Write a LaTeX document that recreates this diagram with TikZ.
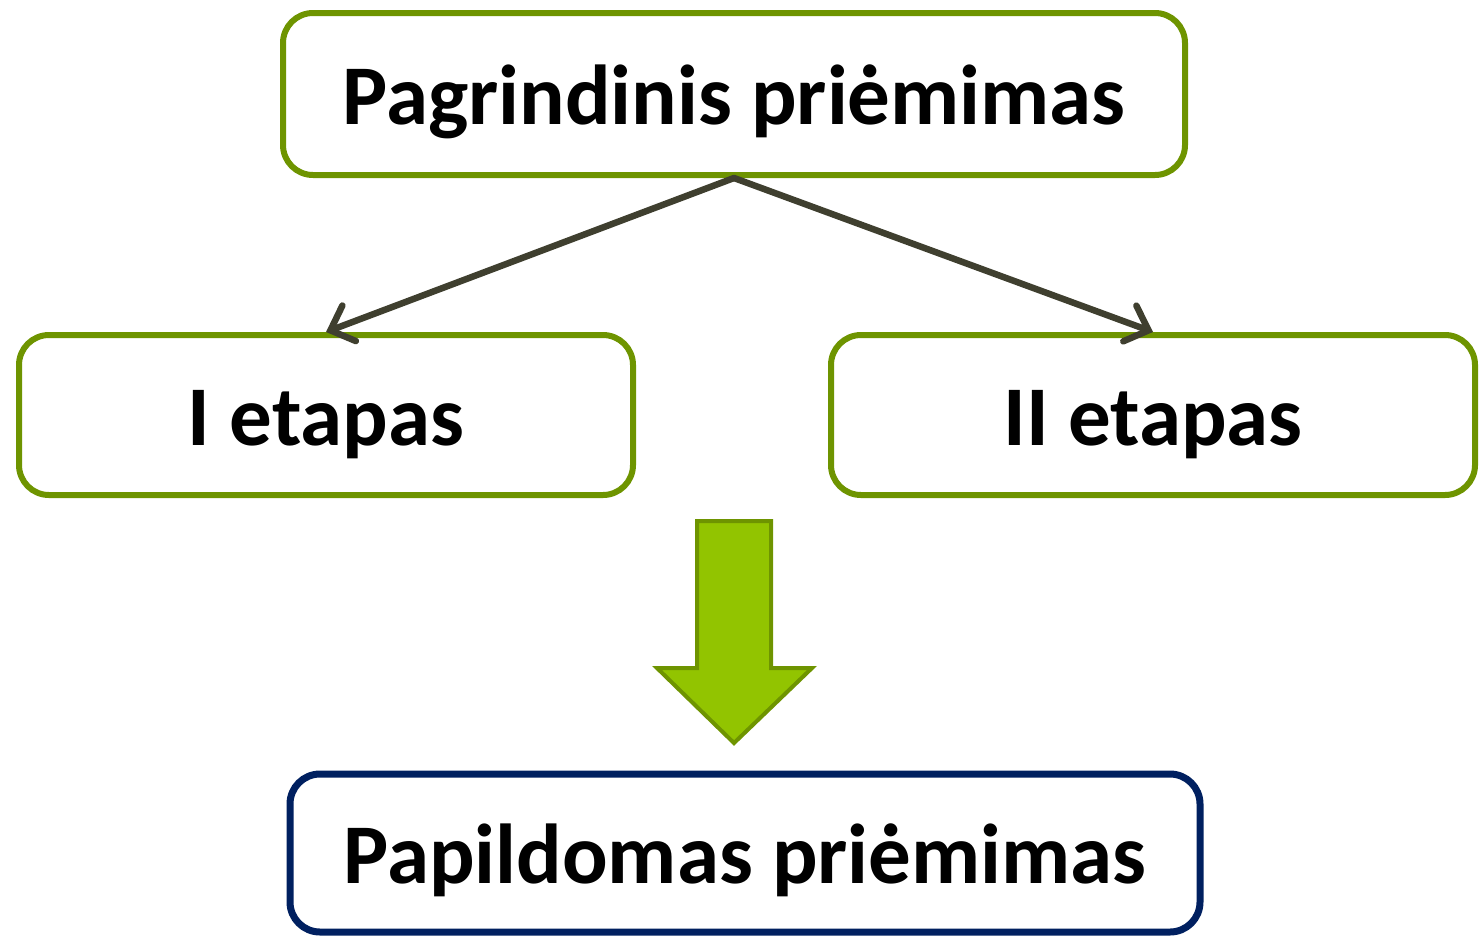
\documentclass[tikz,border=0pt]{standalone}
\usepackage{fontspec}
\setmainfont{Carlito}
\usetikzlibrary{arrows.meta}
\definecolor{boxgreen}{HTML}{6E9400}
\definecolor{fillgreen}{HTML}{92C400}
\definecolor{boxnavy}{HTML}{002060}
\definecolor{linkgray}{HTML}{3F3F2F}
\begin{document}
\begin{tikzpicture}[x=1pt,y=1pt,
  box/.style={draw=boxgreen,line width=6pt,rounded corners=30pt,fill=white,
    inner sep=0pt,text height=64pt,text depth=4pt,
    font=\fontsize{85}{100}\selectfont\bfseries},
  link/.style={draw=linkgray,line width=6.5pt,line cap=round,
    -{Straight Barb[length=20pt,width=38pt,line cap=round]}}]
\useasboundingbox (0,0) rectangle (1479,-938);
\node [box,minimum width=902pt,minimum height=162pt] (main) at (734,-94) {Pagrindinis priėmimas};
\node [box,minimum width=614pt,minimum height=160pt] (first) at (326,-415) {I etapas};
\node [box,minimum width=644pt,minimum height=160pt] (second) at (1153,-415) {II etapas};
\node [box,draw=boxnavy,line width=7pt,minimum width=910pt,minimum height=158pt] (extra) at (745,-853) {Papildomas priėmimas};
\draw [link] (main.south) -- (first.north);
\draw [link] (main.south) -- (second.north);
% block arrow
\draw [draw=boxgreen,fill=fillgreen,line width=4pt,line join=miter]
  (697,-521) -- (771,-521) -- (771,-668) -- (812,-668) -- (734,-743)
  -- (657,-668) -- (697,-668) -- cycle;
\end{tikzpicture}
\end{document}
